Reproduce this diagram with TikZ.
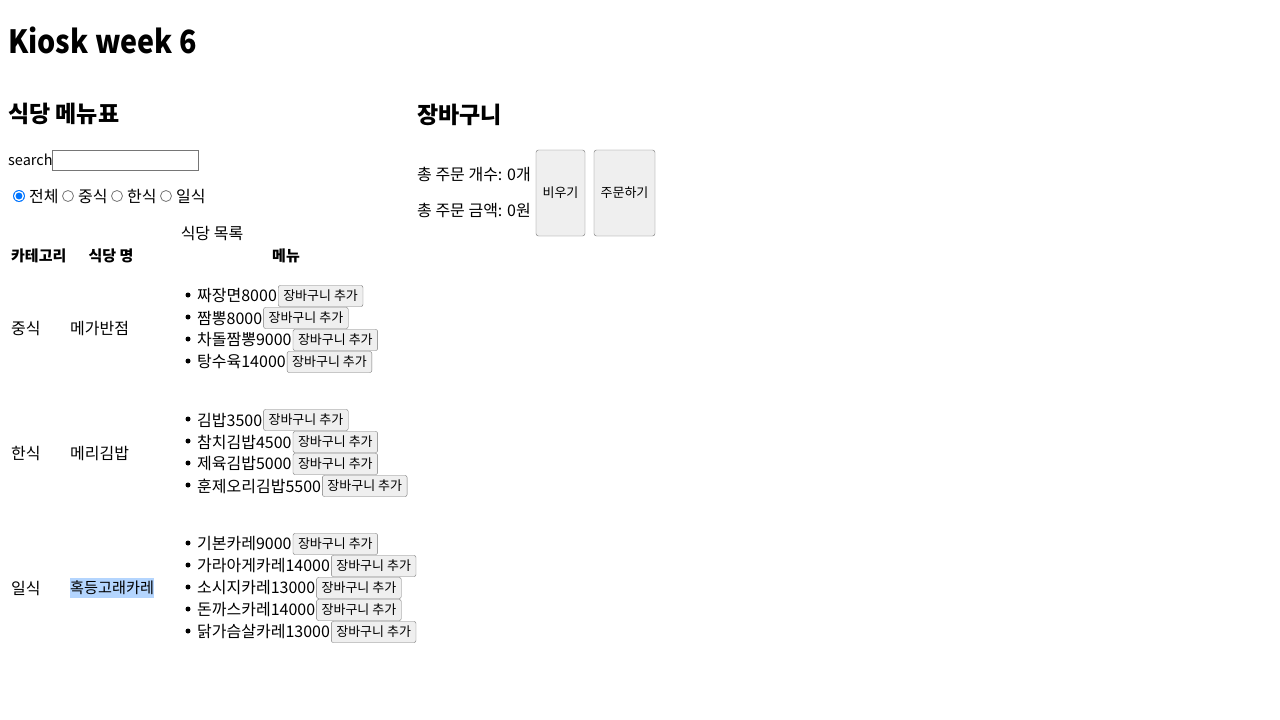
\documentclass[tikz,border=0pt]{standalone}
\usepackage{fontspec}
\setmainfont{Noto Sans CJK KR}
\usetikzlibrary{positioning}

\definecolor{btnfill}{HTML}{EFEFEF}
\definecolor{btnline}{HTML}{767676}
\definecolor{radioblue}{HTML}{0075FF}
\definecolor{selblue}{HTML}{B4D5FE}

\tikzset{
  txt/.style={anchor=west,inner sep=0pt,font=\fontsize{16}{19}\selectfont},
  thead/.style={inner sep=0pt,font=\fontsize{15}{18}\selectfont\bfseries},
  cartbtn/.style={draw=btnline,fill=btnfill,rounded corners=2pt,inner xsep=5pt,
    inner ysep=0pt,minimum height=21pt,font=\fontsize{13}{15}\selectfont},
  bigbtn/.style={draw=btnline,fill=btnfill,rounded corners=2.5pt,minimum height=86pt,
    inner sep=0pt,font=\fontsize{13}{15}\selectfont},
  radiooff/.style={draw=btnline,fill=white,line width=0.8pt}
}

\begin{document}
\begin{tikzpicture}[x=1pt,y=-1pt]
			\useasboundingbox[fill=white] (0,0) rectangle (1280,720);
			
			% headings
			\node[txt,font=\fontsize{32}{38}\selectfont\bfseries,xscale=0.895,transform shape] (title) at (8,40) {Kiosk week 6};
			\node[txt,font=\fontsize{23}{28}\selectfont\bfseries] (menuhead) at (8,114) {식당 메뉴표};
			\node[txt,font=\fontsize{23}{28}\selectfont\bfseries] (carthead) at (417,115) {장바구니};
			
			% search and filter
			\node[txt,font=\fontsize{14.5}{17}\selectfont] (search) at (8,160) {search};
			\node[draw=btnline,anchor=west,minimum width=146pt,minimum height=20pt,inner sep=0pt] (searchbox) at (52,160) {};
			\fill[radioblue] (19,196) circle (6);
			\draw[white,line width=1.3pt] (19,196) circle (4.3);
			\node[txt] (fall) at (29,197) {전체};
			\foreach \n/\cx/\lab in {cn/68/중식, kr/117/한식, jp/166/일식}
			{
				\draw[radiooff] (\cx,196) circle (5.5);
				\node[txt] (f\n) at (\cx+10,197) {\lab};
			}
			
			% table
			\node[inner sep=0pt,font=\fontsize{16}{19}\selectfont] (caption) at (212,234) {식당 목록};
			\node[thead,anchor=west] (hcat) at (11,256) {카테고리};
			\node[thead] (hname) at (111,256) {식당 명};
			\node[thead] (hmenu) at (286,256) {메뉴};
			
			\node[txt] (cat1) at (11,329) {중식};
			\node[txt] (name1) at (70,329) {메가반점};
			\node[txt] (cat2) at (11,454) {한식};
			\node[txt] (name2) at (70,454) {메리김밥};
			\node[txt] (cat3) at (11,589) {일식};
			\node[txt,fill=selblue,minimum height=20pt,font=\fontsize{15.2}{18}\selectfont] (name3) at (70,588) {혹등고래카레};
			
			\foreach \n/\yy/\food in {1/295/짜장면8000, 2/317/짬뽕8000, 3/339/차돌짬뽕9000,
				4/361/탕수육14000, 5/419/김밥3500, 6/441/참치김밥4500, 7/463/제육김밥5000,
				8/485/훈제오리김밥5500, 9/543/기본카레9000, 10/565/가라아게카레14000,
				11/587/소시지카레13000, 12/609/돈까스카레14000, 13/631/닭가슴살카레13000}
			{
				\fill (188,\yy) circle (2.5);
				\node[txt] (food\n) at (197,\yy+1) {\food};
				\node[cartbtn,right=1pt of food\n] (add\n) {장바구니 추가};
			}
			
			% cart
			\node[txt] (count) at (417,174) {총 주문 개수: 0개};
			\node[txt] (total) at (417,210) {총 주문 금액: 0원};
			\node[bigbtn,minimum width=49pt] (clear) at (560.5,193) {비우기};
			\node[bigbtn,minimum width=61pt] (order) at (624.5,193) {주문하기};
\end{tikzpicture}
\end{document}
